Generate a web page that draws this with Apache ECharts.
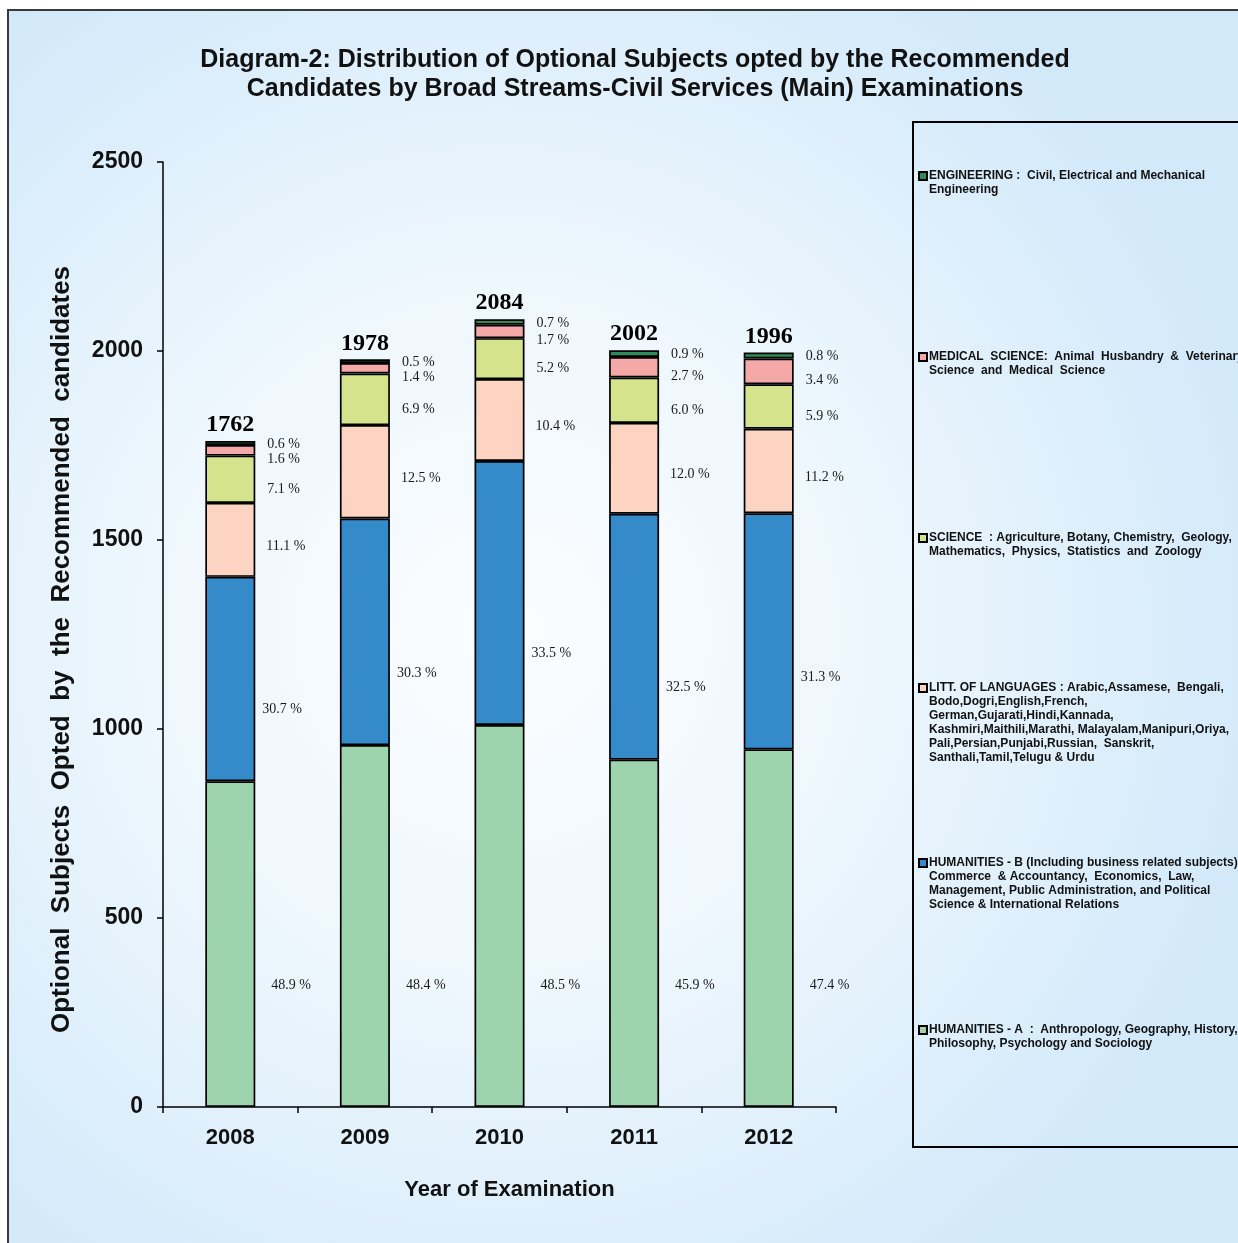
<!DOCTYPE html>
<html>
<head>
<meta charset="utf-8">
<title>Optional Subjects by Broad Streams</title>
<script src="https://cdn.jsdelivr.net/npm/echarts@6/dist/echarts.min.js"></script>
<style>
  html, body { margin: 0; padding: 0; background: #ffffff; }
  #chart { width: 1238px; height: 1243px; }
</style>
</head>
<body>
<div id="chart"></div>
<script>
// Years of examination
const years = ['2008', '2009', '2010', '2011', '2012'];

// Total recommended candidates per year (stack totals)
const totals = [1762, 1978, 2084, 2002, 1996];

// Share of each broad stream, in per cent of the yearly total
const pctHumanitiesA = [48.9, 48.4, 48.5, 45.9, 47.4];
const pctHumanitiesB = [30.7, 30.3, 33.5, 32.5, 31.3];
const pctLanguages   = [11.1, 12.5, 10.4, 12.0, 11.2];
const pctScience     = [7.1, 6.9, 5.2, 6.0, 5.9];
const pctMedical     = [1.6, 1.4, 1.7, 2.7, 3.4];
const pctEngineering = [0.6, 0.5, 0.7, 0.9, 0.8];

// Value axis ticks
const yTicks = [0, 500, 1000, 1500, 2000, 2500];

// Legend descriptions for each stream
const legendText = {
  'ENGINEERING': 'ENGINEERING :  Civil, Electrical and Mechanical\nEngineering',
  'MEDICAL SCIENCE': 'MEDICAL  SCIENCE:  Animal  Husbandry  &  Veterinary\nScience  and  Medical  Science',
  'SCIENCE': 'SCIENCE  : Agriculture, Botany, Chemistry,  Geology,\nMathematics,  Physics,  Statistics  and  Zoology',
  'LITT. OF LANGUAGES': 'LITT. OF LANGUAGES : Arabic,Assamese,  Bengali,\nBodo,Dogri,English,French,\nGerman,Gujarati,Hindi,Kannada,\nKashmiri,Maithili,Marathi, Malayalam,Manipuri,Oriya,\nPali,Persian,Punjabi,Russian,  Sanskrit,\nSanthali,Tamil,Telugu & Urdu',
  'HUMANITIES - B': 'HUMANITIES - B (Including business related subjects) :\nCommerce  & Accountancy,  Economics,  Law,\nManagement, Public Administration, and Political\nScience & International Relations',
  'HUMANITIES - A': 'HUMANITIES - A  :  Anthropology, Geography, History,\nPhilosophy, Psychology and Sociology'
};

// Convert a percentage row into candidate counts for the stacked bars
function counts(pcts) {
  return pcts.map((p, i) => p * totals[i] / 100);
}

const SANS = '"Liberation Sans", Arial, sans-serif';
const SERIF = '"Liberation Serif", "Times New Roman", serif';

const pctLabel = (pcts) => (p) => pcts[p.dataIndex].toFixed(1) + ' %';

function barSeries(name, pcts, color, label) {
  return {
    name: name,
    type: 'bar',
    stack: 'streams',
    barWidth: 50,
    data: counts(pcts),
    itemStyle: { color: color, borderColor: '#000', borderWidth: 1.7 },
    label: Object.assign({
      show: true,
      formatter: pctLabel(pcts),
      fontFamily: SERIF,
      fontSize: 14,
      color: '#1a1a1a'
    }, label),
    emphasis: { disabled: true }
  };
}

const series = [
  barSeries('HUMANITIES - A', pctHumanitiesA, '#9dd4ae',
    { position: 'insideBottom', distance: 0, align: 'left', verticalAlign: 'middle', offset: [41, -122] }),
  barSeries('HUMANITIES - B', pctHumanitiesB, '#358bca',
    { position: 'insideBottom', distance: 0, align: 'left', verticalAlign: 'middle', offset: [32, -72] }),
  barSeries('LITT. OF LANGUAGES', pctLanguages, '#fdd3c1',
    { position: 'right', distance: 11, offset: [0, 6] }),
  barSeries('SCIENCE', pctScience, '#d4e38c',
    { position: 'right', distance: 12, offset: [0, 10] }),
  barSeries('MEDICAL SCIENCE', pctMedical, '#f5a8a8',
    { position: 'right', distance: 12, offset: [0, 9] }),
  barSeries('ENGINEERING', pctEngineering, '#2e8b57',
    { position: 'right', distance: 12, offset: [0, 1] }),
  {
    // zero-height cap carrying the yearly total above each stack
    name: 'TOTAL',
    type: 'bar',
    stack: 'streams',
    barWidth: 50,
    data: totals.map(() => 0),
    itemStyle: { color: 'transparent', borderWidth: 0 },
    label: {
      show: true,
      position: 'top',
      distance: 4,
      formatter: (p) => String(totals[p.dataIndex]),
      fontFamily: SERIF,
      fontWeight: 'bold',
      fontSize: 24,
      color: '#000'
    },
    emphasis: { disabled: true }
  }
];

// Legend entries, top to bottom, with the centre line of their first text row
const legendOrder = [
  ['ENGINEERING', 176],
  ['MEDICAL SCIENCE', 357],
  ['SCIENCE', 538],
  ['LITT. OF LANGUAGES', 688],
  ['HUMANITIES - B', 863],
  ['HUMANITIES - A', 1030]
];
const LEGEND_LH = 14;

// Legend text is centred on its swatch, so blank lines are put in front
// of the description to keep the swatch level with the first row.
const legends = legendOrder.map(([name, centreY]) => {
  const lines = legendText[name].split('\n').length;
  const lead = '\n'.repeat(lines - 1);
  return {
    data: [name],
    orient: 'vertical',
    left: 918,
    top: centreY - (2 * lines - 1) * LEGEND_LH / 2,
    padding: 0,
    itemWidth: 8,
    itemHeight: 8,
    itemGap: 0,
    icon: 'rect',
    selectedMode: false,
    formatter: (n) => lead + legendText[n],
    textStyle: {
      fontFamily: SANS,
      fontWeight: 'bold',
      fontSize: 12,
      lineHeight: LEGEND_LH,
      color: '#111',
      padding: [0, 0, 0, -3]
    }
  };
});

const chart = echarts.init(document.getElementById('chart'), null, { renderer: 'canvas' });

chart.setOption({
  animation: false,
  backgroundColor: '#ffffff',
  title: {
    text: 'Diagram-2: Distribution of Optional Subjects opted by the Recommended\nCandidates by Broad Streams-Civil Services (Main) Examinations',
    left: 635,
    top: 46,
    padding: 0,
    textAlign: 'center',
    textStyle: {
      fontFamily: SANS,
      fontWeight: 'bold',
      fontSize: 25,
      lineHeight: 29,
      color: '#111'
    }
  },
  graphic: [
    {
      type: 'rect',
      z: -10,
      silent: true,
      shape: { x: 8, y: 10, width: 1300, height: 1300 },
      style: {
        fill: {
          type: 'radial', x: 0.38, y: 0.48, r: 0.6,
          colorStops: [
            { offset: 0, color: '#fbfdff' },
            { offset: 0.45, color: '#eef7fd' },
            { offset: 1, color: '#d2e9fa' }
          ]
        },
        stroke: '#3a3a3a',
        lineWidth: 2
      }
    },
    {
      type: 'rect',
      z: 1,
      silent: true,
      shape: { x: 913, y: 122, width: 400, height: 1025 },
      style: { fill: 'transparent', stroke: '#000', lineWidth: 2 }
    }
  ],
  legend: legends,
  grid: { left: 163, top: 162, right: 402, bottom: 136, containLabel: false },
  xAxis: {
    type: 'category',
    data: years,
    boundaryGap: true,
    name: 'Year of Examination',
    nameLocation: 'middle',
    nameGap: 72,
    nameTextStyle: { fontFamily: SANS, fontWeight: 'bold', fontSize: 22, color: '#111', padding: [0, 0, 0, 20] },
    axisLine: { lineStyle: { color: '#000', width: 1.5 } },
    axisTick: { show: true, alignWithLabel: false, length: 6, lineStyle: { color: '#000', width: 1.5 } },
    axisLabel: { fontFamily: SANS, fontWeight: 'bold', fontSize: 22, color: '#111', margin: 20 },
    splitLine: { show: false }
  },
  yAxis: {
    type: 'value',
    min: yTicks[0],
    max: yTicks[yTicks.length - 1],
    interval: yTicks[1] - yTicks[0],
    name: 'Optional  Subjects  Opted  by  the  Recommended  candidates',
    nameLocation: 'middle',
    nameGap: 88,
    nameTextStyle: { fontFamily: SANS, fontWeight: 'bold', fontSize: 26, color: '#111', padding: [0, 30, 0, 0] },
    axisLine: { show: true, lineStyle: { color: '#000', width: 1.5 } },
    axisTick: { show: true, length: 6, lineStyle: { color: '#000', width: 1.5 } },
    axisLabel: {
      fontFamily: SANS, fontWeight: 'bold', fontSize: 23, color: '#111', margin: 20,
      formatter: (v) => String(v)
    },
    splitLine: { show: false }
  },
  series: series
});
</script>
</body>
</html>
